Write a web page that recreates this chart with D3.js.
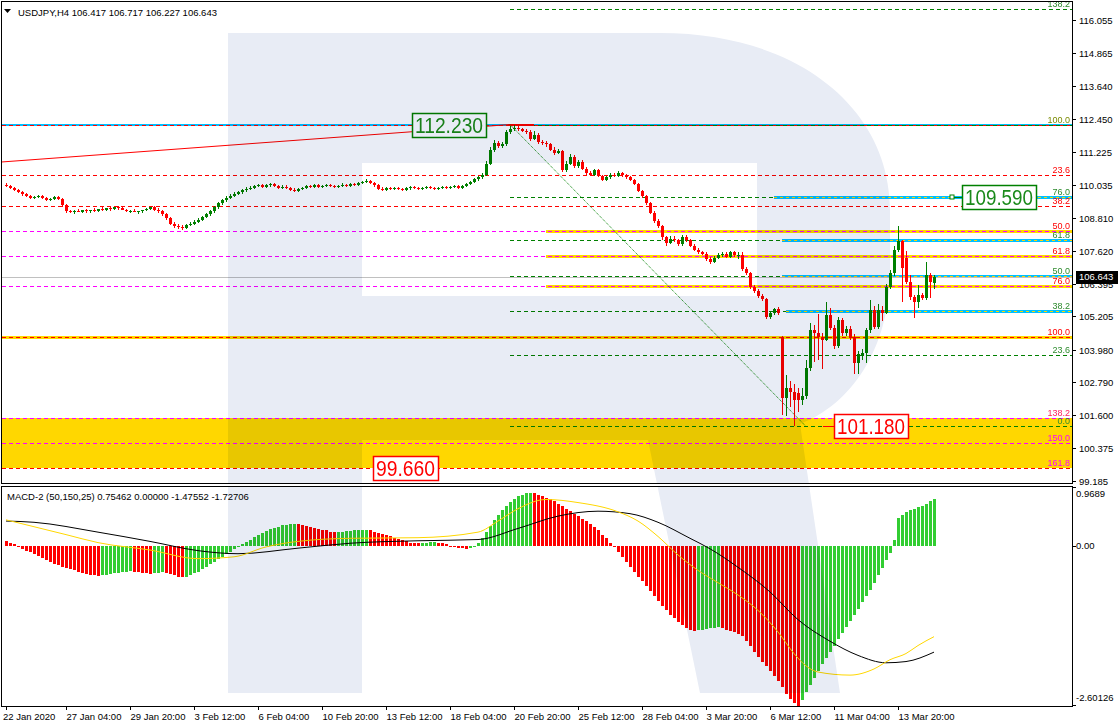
<!DOCTYPE html>
<html><head><meta charset="utf-8">
<script src="https://cdn.jsdelivr.net/npm/d3@7/dist/d3.min.js"></script>
<style>
html,body{margin:0;padding:0;background:#fff;}
svg{display:block;}
text{font-family:"Liberation Sans",Arial,sans-serif;}
</style></head><body>
<svg id="chart" width="1118" height="726"></svg>
<script>
// ---------------- DATA ----------------
const symbolTitle = "USDJPY,H4  106.417 106.717 106.227 106.643";
const macdTitle = "MACD-2 (50,150,25) 0.75462 0.00000 -1.47552 -1.72706";

const opens = [110.02,109.98,109.90,109.83,109.76,109.68,109.61,109.54,109.57,109.61,109.54,109.46,109.50,109.57,109.50,
109.28,109.05,109.02,109.08,109.04,109.10,109.06,109.12,109.08,109.15,109.10,109.18,109.14,109.20,109.16,109.10,109.05,109.08,109.02,109.06,109.10,109.15,109.20,109.12,109.05,108.95,108.80,108.60,108.52,
108.48,108.45,108.55,108.60,108.68,108.75,108.85,108.95,109.05,109.20,109.35,109.45,109.55,109.62,109.70,109.75,109.82,
109.88,109.92,109.98,110.02,109.95,110.00,110.05,109.98,109.92,109.96,109.90,109.85,109.80,109.86,109.92,109.97,109.94,110.00,109.95,109.98,110.02,109.97,109.93,109.98,110.03,109.99,110.05,110.02,110.08,110.12,110.15,110.10,
110.00,109.88,109.85,109.90,109.87,109.92,109.88,109.84,109.89,109.93,109.90,109.86,109.91,109.95,109.92,109.88,109.90,109.94,109.90,109.93,
109.97,109.92,109.98,110.05,110.12,110.22,110.30,110.38,110.80,111.30,111.55,111.45,111.50,111.95,
112.05,112.10,112.05,112.00,111.95,111.70,111.85,111.60,111.55,111.50,111.30,111.20,111.25,110.55,
110.80,111.05,110.70,110.85,110.60,110.45,110.40,110.55,110.35,110.20,110.30,110.40,110.35,110.45,110.38,110.30,110.20,110.05,109.80,109.60,
109.35,109.00,108.70,108.50,108.10,107.90,108.05,108.00,107.85,108.10,108.00,107.80,107.65,107.55,107.50,107.30,107.20,107.35,107.45,107.50,107.40,107.55,107.45,
107.45,106.95,106.80,106.28,106.14,105.96,105.85,105.19,105.33,105.48,
104.46,102.22,102.59,102.45,102.40,102.15,102.30,103.32,104.71,104.60,104.46,104.35,105.26,104.79,104.13,105.08,104.60,104.75,104.46,103.50,103.80,103.87,104.71,105.44,104.82,105.45,105.35,106.29,106.80,107.65,107.95,107.35,106.47,105.92,105.74,105.99,105.88,106.72,106.417];

const highs = [110.08,110.02,109.95,109.88,109.80,109.72,109.66,109.62,109.66,109.65,109.58,109.54,109.62,109.62,109.54,
109.32,109.10,109.12,109.13,109.09,109.15,109.12,109.17,109.13,109.20,109.15,109.23,109.19,109.25,109.22,109.15,109.12,109.13,109.08,109.12,109.16,109.20,109.25,109.17,109.10,109.00,108.85,108.65,108.58,
108.55,108.60,108.66,108.73,108.80,108.90,109.00,109.10,109.26,109.40,109.52,109.60,109.68,109.76,109.80,109.88,109.94,
109.97,110.03,110.07,110.06,110.04,110.10,110.09,110.02,110.00,110.00,109.94,109.89,109.90,109.96,110.02,110.01,110.05,110.04,110.03,110.07,110.06,110.01,110.03,110.08,110.07,110.10,110.09,110.13,110.17,110.22,110.19,110.14,
110.04,109.93,109.94,109.94,109.96,109.96,109.92,109.93,109.98,109.97,109.94,109.95,109.99,109.99,109.96,109.94,109.98,109.98,109.97,110.01,
110.02,110.03,110.10,110.17,110.27,110.36,110.45,110.88,111.40,111.65,111.62,111.58,112.02,112.18,
112.23,112.18,112.12,112.08,112.02,111.98,111.92,111.68,111.62,111.56,111.40,111.32,111.30,110.90,
111.15,111.10,110.92,110.92,110.66,110.52,110.62,110.60,110.40,110.36,110.46,110.46,110.52,110.50,110.42,110.35,110.25,110.10,109.85,109.65,
109.40,109.05,108.78,108.55,108.15,108.15,108.15,108.05,108.18,108.20,108.05,107.85,107.70,107.62,107.55,107.38,107.42,107.52,107.58,107.56,107.62,107.60,107.55,
107.58,107.00,106.85,106.35,106.20,106.02,105.90,105.40,105.52,105.55,
104.50,103.05,102.85,102.75,102.60,102.60,103.60,104.95,104.90,105.30,104.60,105.75,105.50,104.90,105.20,105.15,104.85,104.85,104.55,103.95,104.00,104.80,105.80,105.60,105.65,105.60,106.40,106.90,107.80,108.52,108.00,107.60,106.72,106.00,106.35,106.05,107.20,106.80,106.717];

const lows = [109.94,109.86,109.79,109.71,109.63,109.56,109.49,109.50,109.53,109.50,109.42,109.43,109.47,109.46,109.22,
109.00,108.98,108.97,109.03,108.99,109.01,109.01,109.04,109.03,109.06,109.05,109.07,109.09,109.10,109.11,109.04,109.00,109.02,108.97,109.00,109.05,109.10,109.07,109.00,108.90,108.75,108.55,108.45,108.40,
108.38,108.40,108.50,108.55,108.63,108.70,108.80,108.90,109.00,109.15,109.30,109.40,109.50,109.57,109.65,109.70,109.77,
109.84,109.88,109.94,109.91,109.91,109.96,109.94,109.88,109.88,109.86,109.81,109.76,109.76,109.82,109.88,109.90,109.90,109.91,109.91,109.94,109.93,109.89,109.89,109.94,109.95,109.95,109.98,109.98,110.04,110.08,110.06,109.95,
109.84,109.81,109.81,109.83,109.83,109.84,109.80,109.80,109.85,109.86,109.82,109.82,109.87,109.88,109.84,109.84,109.86,109.86,109.86,109.89,
109.86,109.88,109.94,110.01,110.08,110.17,110.25,110.33,110.75,111.22,111.38,111.38,111.45,111.90,
111.98,112.00,111.95,111.90,111.62,111.65,111.52,111.48,111.42,111.25,111.12,111.15,110.50,110.48,
110.75,110.65,110.64,110.55,110.40,110.34,110.35,110.30,110.15,110.15,110.25,110.30,110.30,110.32,110.25,110.15,110.00,109.75,109.55,109.28,
108.95,108.62,108.45,108.02,107.80,107.85,107.92,107.78,107.80,107.92,107.75,107.60,107.48,107.44,107.25,107.12,107.15,107.30,107.40,107.35,107.35,107.40,107.30,
106.88,106.72,106.22,106.08,105.90,105.78,105.10,105.12,105.25,105.25,
101.60,101.55,101.90,101.18,101.70,101.95,102.20,103.20,103.55,103.60,103.30,104.30,104.70,104.00,104.05,104.50,104.50,104.35,103.10,103.10,103.60,103.50,104.60,104.75,104.75,105.05,105.30,106.20,106.70,107.55,105.74,106.40,105.80,105.15,105.50,105.80,105.80,105.90,106.227];

const closes = [109.98,109.90,109.83,109.76,109.68,109.61,109.54,109.57,109.61,109.54,109.46,109.50,109.57,109.50,109.28,
109.05,109.02,109.08,109.04,109.10,109.06,109.12,109.08,109.15,109.10,109.18,109.14,109.20,109.16,109.10,109.05,109.08,109.02,109.06,109.10,109.15,109.20,109.12,109.05,108.95,108.80,108.60,108.52,108.48,
108.45,108.55,108.60,108.68,108.75,108.85,108.95,109.05,109.20,109.35,109.45,109.55,109.62,109.70,109.75,109.82,109.88,
109.92,109.98,110.02,109.95,110.00,110.05,109.98,109.92,109.96,109.90,109.85,109.80,109.86,109.92,109.97,109.94,110.00,109.95,109.98,110.02,109.97,109.93,109.98,110.03,109.99,110.05,110.02,110.08,110.12,110.15,110.10,110.00,
109.88,109.85,109.90,109.87,109.92,109.88,109.84,109.89,109.93,109.90,109.86,109.91,109.95,109.92,109.88,109.90,109.94,109.90,109.93,109.97,
109.92,109.98,110.05,110.12,110.22,110.30,110.38,110.80,111.30,111.55,111.45,111.50,111.95,112.05,
112.10,112.05,112.00,111.95,111.70,111.85,111.60,111.55,111.50,111.30,111.20,111.25,110.55,110.80,
111.05,110.70,110.85,110.60,110.45,110.40,110.55,110.35,110.20,110.30,110.40,110.35,110.45,110.38,110.30,110.20,110.05,109.80,109.60,109.35,
109.00,108.70,108.50,108.10,107.90,108.05,108.00,107.85,108.10,108.00,107.80,107.65,107.55,107.50,107.30,107.20,107.35,107.45,107.50,107.40,107.55,107.45,107.45,
106.95,106.80,106.28,106.14,105.96,105.85,105.19,105.33,105.48,105.33,
102.22,102.59,102.45,102.15,102.15,102.30,103.32,104.71,104.60,104.46,104.35,105.26,104.79,104.13,105.08,104.60,104.75,104.46,103.50,103.85,103.87,104.71,105.44,104.82,105.45,105.35,106.29,106.80,107.65,107.95,106.98,106.47,105.92,105.74,105.99,105.88,106.72,106.47,106.643];

const macdHist = [0.08,0.05,0.02,-0.02,
-0.05,-0.08,-0.11,-0.14,-0.17,-0.20,-0.23,-0.26,-0.29,-0.32,-0.34,-0.36,-0.38,-0.40,-0.42,-0.44,-0.46,-0.47,-0.48,-0.49,
-0.48,-0.47,-0.46,-0.45,-0.44,-0.43,-0.42,-0.41,
-0.42,-0.43,-0.44,-0.45,-0.46,
-0.45,-0.44,-0.43,-0.44,-0.46,-0.48,-0.50,-0.51,-0.50,-0.48,-0.45,
-0.42,-0.38,-0.34,-0.30,-0.26,-0.22,-0.18,-0.14,-0.10,-0.06,
-0.02,0.02,0.06,0.10,0.14,0.18,0.21,0.24,0.27,0.29,0.31,0.33,0.34,0.35,0.36,
0.35,0.34,0.32,0.30,0.28,0.27,0.26,0.25,
0.22,0.22,0.23,0.23,0.24,0.24,0.25,0.25,0.26,0.26,
0.25,0.23,0.21,0.19,0.17,0.15,0.13,0.11,0.09,0.07,0.05,
0.04,0.04,0.05,0.05,0.06,0.06,0.05,
0.04,0.02,0.00,-0.02,-0.03,-0.04,-0.05,
-0.03,0.00,0.05,
0.12,0.22,0.32,0.42,0.50,0.58,0.65,0.71,0.76,0.80,0.83,0.85,0.86,
0.85,0.83,0.80,0.78,0.75,0.72,0.68,0.64,0.60,0.56,
0.52,0.48,0.44,0.40,0.35,0.30,0.25,0.18,0.12,
0.05,-0.02,-0.10,-0.18,-0.26,-0.34,-0.42,-0.50,-0.58,-0.66,-0.74,-0.82,-0.90,-0.98,-1.05,-1.12,-1.18,-1.24,-1.29,-1.33,-1.36,-1.38,
-1.37,-1.36,-1.35,-1.34,-1.33,-1.32,
-1.34,-1.36,-1.38,-1.40,-1.43,-1.47,
-1.55,-1.63,-1.72,-1.80,-1.88,-1.96,-2.04,-2.12,-2.20,-2.30,-2.40,-2.48,-2.55,-2.60,
-2.50,-2.38,-2.26,-2.14,-2.03,-1.92,-1.82,-1.72,-1.62,-1.52,-1.42,-1.32,-1.22,-1.12,-1.02,-0.92,-0.82,-0.72,-0.60,-0.48,-0.36,-0.24,-0.12,
0.10,0.45,0.50,0.55,0.58,0.60,0.62,0.65,0.68,0.72,0.75];

const blackLineBars = [0,7,23,36,48,58,73,86,103,118,128,138,148,156,163,171,176,183,191,198,206,213,220,225,232];
const blackLineVals = [0.40,0.38,0.22,0.07,-0.08,-0.13,-0.04,0.04,0.08,0.10,0.28,0.48,0.56,0.52,0.38,0.12,-0.05,-0.35,-0.75,-1.20,-1.55,-1.78,-1.90,-1.88,-1.727];
const yellowLineBars = [0,15,23,36,48,57,65,73,86,103,118,123,128,135,143,153,158,163,168,173,178,183,188,193,197,200,203,211,217,221,225,228,232];
const yellowLineVals = [0.42,0.18,0.05,-0.07,-0.21,-0.18,-0.02,0.07,0.12,0.13,0.22,0.40,0.60,0.75,0.70,0.55,0.40,0.15,-0.15,-0.40,-0.60,-0.80,-1.05,-1.40,-1.75,-1.95,-2.05,-2.10,-2.00,-1.85,-1.75,-1.62,-1.476];

const timeTickBars = [0,15,31,47,63,79,95,111,127,143,159,175,191,207,223];
const timeTickLabels = ["22 Jan 2020","27 Jan 04:00","29 Jan 20:00","3 Feb 12:00","6 Feb 04:00","10 Feb 20:00","13 Feb 12:00","18 Feb 04:00","20 Feb 20:00","25 Feb 12:00","28 Feb 04:00","3 Mar 20:00","6 Mar 12:00","11 Mar 04:00","13 Mar 20:00"];
const priceTicks = [116.055,114.865,113.640,112.450,111.225,110.035,108.810,107.620,106.395,105.205,103.980,102.790,101.600,100.375,99.185];
const macdTicks = [0.9689,0.00,-2.60126];
const macdTickLabels = ["0.9689","0.00","-2.60126"];

// Fibonacci objects (levels and anchor prices)
const greenFibLevels = [0,23.6,38.2,50,61.8,76,100,138.2];
const greenFibHigh = 112.23, greenFibLow = 101.18, greenFibStartBar = 126;
const redFibLevels = [23.6,38.2,50,61.8,76,100,138.2,150,161.8];
const redFibZero = 112.23, redFibHundred = 104.46;
const cyanLinePrices = [112.23,109.59,108.009,106.705,105.401];
const cyanLineStartBars = [-3,192,194,194,195];
const yellowLinePrices = [108.343,107.426,106.32,104.46];
const yellowLineStartBars = [135,135,135,-3];
const trendLineBars = [-1,126], trendLinePrices = [110.86,112.23];
const diagLineBars = [126,200], diagLinePrices = [112.23,101.18];
const tagTexts = ["112.230","109.590","101.180","99.660"];
const tagPrices = [112.23,109.59,101.18,99.66];
const tagBars = [101.5,239,207,91.7];
const lastPrice = 106.643;

// ---------------- LAYOUT ----------------
const L=2, R=1072, T=2, B=483, MT=486, MB=706;
const svg = d3.select('#chart');
const x = d3.scaleLinear().domain([0,232]).range([6,934]);
const y = d3.scaleLinear().domain([99.185,116.055]).range([481,20]);
const my = d3.scaleLinear().domain([-2.60126,0.9689]).range([MB,MT]);
const ry = v => Math.round(y(v)) + 0.5;

svg.append('rect').attr('width',1118).attr('height',726).attr('fill','#fff');
const defs = svg.append('defs');
defs.append('clipPath').attr('id','cm').append('rect').attr('x',L).attr('y',T).attr('width',R-L).attr('height',B-T);
defs.append('clipPath').attr('id','cd').append('rect').attr('x',L).attr('y',MT).attr('width',R-L).attr('height',MB-MT);

const main = svg.append('g').attr('clip-path','url(#cm)');

const redPrice = lvl => redFibZero - lvl/100*(redFibZero-redFibHundred);
const greenPrice = lvl => greenFibLow + lvl/100*(greenFibHigh-greenFibLow);
main.append('rect').attr('x',L).attr('width',R-L)
  .attr('y',Math.round(y(redPrice(138.2)))).attr('height',Math.round(y(redPrice(161.8)))-Math.round(y(redPrice(138.2))))
  .attr('fill','#FFD700');

function hline(g, price, x0, x1, stroke, w, dash){
  const yy = w%2===1 ? ry(price) : Math.round(y(price));
  g.append('line').attr('x1',x0).attr('x2',x1).attr('y1',yy).attr('y2',yy)
    .attr('stroke',stroke).attr('stroke-width',w).attr('stroke-dasharray',dash||null)
    .attr('shape-rendering','crispEdges');
}
const bx = b => b<0 ? L : x(b);

yellowLinePrices.forEach((p,i)=> hline(main,p,bx(yellowLineStartBars[i]),R,'#FFD700',3));
cyanLinePrices.forEach((p,i)=> hline(main,p,bx(cyanLineStartBars[i]),R,'#00BFFF', i===0?2:3));
cyanLinePrices.forEach((p,i)=> { if(i>0) hline(main,p,bx(cyanLineStartBars[i]),R,'#FFD700',1,'3,3'); });

const redStyle = {23.6:'#FF0000',38.2:'#FF0000',50:'#FF00FF',61.8:'#FF00FF',76:'#FF00FF',100:'#FF0000',138.2:'#FF00FF',150:'#FF00FF',161.8:'#FF0000'};
hline(main, redFibZero, L, R, '#FF0000', 1, '4,3');
redFibLevels.forEach(l => hline(main, redPrice(l), L, R, redStyle[l], 1, '4,3'));
greenFibLevels.forEach(l => {
  const p = greenPrice(l);
  const ci = cyanLinePrices.findIndex(c=>Math.abs(c-p)<0.05);
  const end = (ci>0) ? x(cyanLineStartBars[ci]) : R;
  hline(main, p, x(greenFibStartBar), end, '#008000', 1, '4,3');
});
hline(main, lastPrice, L, R, '#C0C0C0', 1);

main.append('line').attr('x1',x(trendLineBars[0])).attr('y1',y(trendLinePrices[0]))
  .attr('x2',x(trendLineBars[1])).attr('y2',y(trendLinePrices[1])).attr('stroke','#FF0000').attr('stroke-width',1);
hline(main, 112.23, x(125.5), x(132), '#FF0000', 2);
main.append('line').attr('x1',x(diagLineBars[0])).attr('y1',y(diagLinePrices[0]))
  .attr('x2',x(diagLineBars[1])).attr('y2',y(diagLinePrices[1])).attr('stroke','#008000').attr('stroke-width',1).attr('stroke-dasharray','1,1');

const cg = main.append('g').attr('shape-rendering','crispEdges');
closes.forEach((c,i)=>{
  const o = opens[i], up = c >= o, col = up ? '#008000' : '#FF0000';
  const xc = Math.round(x(i));
  cg.append('rect').attr('x',xc).attr('width',1).attr('y',Math.round(y(highs[i])))
    .attr('height',Math.max(1,Math.round(y(lows[i]))-Math.round(y(highs[i])))).attr('fill',col);
  const top = Math.round(y(Math.max(o,c))), bot = Math.round(y(Math.min(o,c)));
  cg.append('rect').attr('x',xc-1).attr('width',3).attr('y',top).attr('height',Math.max(1,bot-top)).attr('fill',col);
});

hline(main, 109.59, x(236), x(239), '#008000', 1);
main.append('rect').attr('x',Math.round(x(236.5))-2).attr('y',Math.round(y(109.59))-2).attr('width',4).attr('height',4)
  .attr('fill','#fff').attr('stroke','#008000').attr('stroke-width',1);
hline(main, 101.18, x(204.3), x(207), '#FF0000', 1);

tagTexts.forEach((t,i)=>{
  const col = tagPrices[i] > 108 ? '#008000' : '#FF0000';
  const txtCol = tagPrices[i] > 108 ? '#1A8A1A' : '#FF0000';
  const w = t.length===7 ? 74 : 65;
  const bx0 = Math.round(x(tagBars[i])), by0 = Math.round(y(tagPrices[i]))-12;
  main.append('rect').attr('x',bx0+0.5).attr('y',by0+0.5).attr('width',w).attr('height',24)
    .attr('fill','#fff').attr('stroke',col).attr('stroke-width',1.5);
  main.append('text').attr('x',bx0+3).attr('y',by0+20).attr('font-size',22)
    .attr('textLength',w-6).attr('lengthAdjust','spacingAndGlyphs').attr('fill',txtCol).text(t);
});

// watermark (logo), blended over everything in the window
const wmPath = "M228,33 H660 C800,33 890,110 890,210 V270 C890,350 850,405 800,424 L840,693 H700 L648,440 H362 V693 H228 Z M362,163 H757 V296 H362 Z";
main.append('path').attr('d',wmPath).attr('fill','#E8ECF5').attr('fill-rule','evenodd').style('mix-blend-mode','multiply');

const flab = main.append('g').attr('font-size',9).attr('text-anchor','end');
greenFibLevels.forEach(l=>{
  flab.append('text').attr('x',R-2).attr('y',Math.round(y(greenPrice(l)))-2)
    .attr('fill', l===100 ? '#7A8A00' : '#2E8B2E').text(l.toFixed(1));
});
const redLabCol = {23.6:'#FF0000',38.2:'#FF0000',50:'#FF0000',61.8:'#FF0000',76:'#FF0000',100:'#FF0000',138.2:'#FF2060',150:'#FF00FF',161.8:'#FF00FF'};
redFibLevels.forEach(l=>{
  flab.append('text').attr('x',R-2).attr('y',Math.round(y(redPrice(l)))-2)
    .attr('fill', redLabCol[l]).text(l.toFixed(1));
});

svg.append('path').attr('d','M4,9 L11,9 L7.5,13 Z').attr('fill','#000');
svg.append('text').attr('x',18).attr('y',16).attr('font-size',9.5).attr('fill','#000').text(symbolTitle);

svg.append('rect').attr('x',1.5).attr('y',1.5).attr('width',R-1).attr('height',B-1).attr('fill','none').attr('stroke','#000');

const pa = svg.append('g');
const lpY = Math.round(y(lastPrice));
priceTicks.forEach(t=>{
  const yy = Math.round(y(t))+0.5;
  pa.append('line').attr('x1',R).attr('x2',R+4).attr('y1',yy).attr('y2',yy).attr('stroke','#000');
  pa.append('text').attr('x',R+7).attr('y',yy).attr('dy','0.35em').attr('font-size',9.5).attr('fill','#000').text(t.toFixed(3));
});
svg.append('rect').attr('x',R+4).attr('y',lpY-6).attr('width',42).attr('height',13).attr('fill','#000');
svg.append('text').attr('x',R+7).attr('y',lpY).attr('dy','0.35em').attr('font-size',9.5).attr('fill','#fff').text(lastPrice.toFixed(3));

const md = svg.append('g').attr('clip-path','url(#cd)');
const hg = md.append('g').attr('shape-rendering','crispEdges');
let prevCol = '#FF0000';
macdHist.forEach((v,i)=>{
  let col = prevCol;
  if(i>0){ if(v>macdHist[i-1]) col='#32CD32'; else if(v<macdHist[i-1]) col='#FF0000'; }
  prevCol = col;
  const y0 = Math.round(my(0)), y1 = Math.round(my(v));
  hg.append('rect').attr('x',Math.round(x(i))-1).attr('width',3)
    .attr('y',Math.min(y0,y1)).attr('height',Math.max(1,Math.abs(y1-y0))).attr('fill',col);
});
const lineGen = d3.line().x(d=>x(d[0])).y(d=>my(d[1])).curve(d3.curveMonotoneX);
md.append('path').attr('d',lineGen(blackLineBars.map((b,i)=>[b,blackLineVals[i]]))).attr('fill','none').attr('stroke','#000').attr('stroke-width',1);
md.append('path').attr('d',lineGen(yellowLineBars.map((b,i)=>[b,yellowLineVals[i]]))).attr('fill','none').attr('stroke','#FFD700').attr('stroke-width',1);
md.append('path').attr('d',wmPath).attr('fill','#E8ECF5').attr('fill-rule','evenodd').style('mix-blend-mode','multiply');
svg.append('rect').attr('x',1.5).attr('y',MT+0.5).attr('width',R-1).attr('height',MB-MT).attr('fill','none').attr('stroke','#000');
svg.append('text').attr('x',7).attr('y',MT+14).attr('font-size',9.5).attr('fill','#000').text(macdTitle);
const macdLabelY = [MT+8, Math.round(my(0)), MB-8];
macdTicks.forEach((t,i)=>{
  const yy = (i===1? Math.round(my(t)) : (i===0? MT+1 : MB-1)) + 0.5;
  svg.append('line').attr('x1',R).attr('x2',R+4).attr('y1',yy).attr('y2',yy).attr('stroke','#000');
  svg.append('text').attr('x',R+4).attr('y',macdLabelY[i]).attr('dy','0.35em').attr('font-size',9.5).attr('fill','#000').text(macdTickLabels[i]);
});

timeTickBars.forEach((b,i)=>{
  const xx = Math.round(x(b))+0.5;
  svg.append('line').attr('x1',xx).attr('x2',xx).attr('y1',MB).attr('y2',MB+4).attr('stroke','#000');
  svg.append('text').attr('x', i===0 ? 3 : xx).attr('y',MB+14).attr('font-size',9.5).attr('fill','#000').text(timeTickLabels[i]);
});
</script>
</body></html>
